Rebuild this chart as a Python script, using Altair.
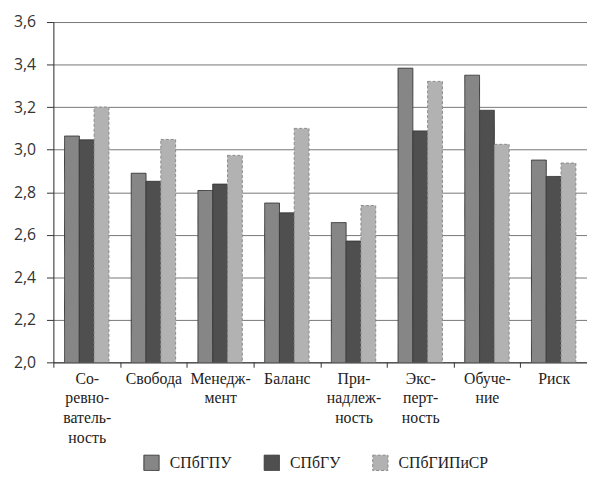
import altair as alt
import pandas as pd

categories = ["Со-|ревно-|ватель-|ность", "Свобода", "Менедж-|мент", "Баланс",
              "При-|надлеж-|ность", "Экс-|перт-|ность", "Обуче-|ние", "Риск"]
series = ["СПбГПУ", "СПбГУ", "СПбГИПиСР"]
v_gpu = [3.064, 2.889, 2.808, 2.749, 2.657, 3.383, 3.350, 2.951]
v_gu = [3.046, 2.851, 2.838, 2.703, 2.570, 3.088, 3.185, 2.874]
v_gipisr = [3.200, 3.048, 2.973, 3.100, 2.737, 3.321, 3.025, 2.937]

fills = ["#868686", "#4f4f4f", "#b2b2b2"]
strokes = ["#3a3a3a", "#3a3a3a", "#8a8a8a"]
dashes = [[1, 0], [1, 0], [3, 2]]

rows = []
for s, vals in zip(series, [v_gpu, v_gu, v_gipisr]):
    for c, v in zip(categories, vals):
        rows.append({"cat": c, "series": s, "value": v})
df = pd.DataFrame(rows)

legend = alt.Legend(title=None, orient="none", legendX=91, legendY=438,
                    direction="horizontal", symbolType="square", symbolSize=240,
                    labelFont="Liberation Serif", labelFontSize=16, labelColor="#222",
                    labelOffset=10, columnPadding=30, symbolStrokeWidth=1)

chart = alt.Chart(df).mark_bar(strokeWidth=1, clip=True).encode(
    x=alt.X("cat:N", sort=categories, title=None,
            scale=alt.Scale(paddingInner=0, paddingOuter=0),
            axis=alt.Axis(labelExpr="split(datum.label, '|')", labelAngle=0,
                          labelFont="Liberation Serif", labelFontSize=16, labelColor="#222",
                          labelLineHeight=20, labelBaseline="top", labelPadding=3,
                          labelLimit=0, tickBand="extent", tickSize=5, tickColor="#333",
                          domainColor="#333", grid=False)),
    xOffset=alt.XOffset("series:N", sort=series,
                        scale=alt.Scale(paddingInner=0, paddingOuter=0.755)),
    y=alt.Y("value:Q", title=None,
            scale=alt.Scale(domain=[2.0, 3.6], zero=False, nice=False),
            axis=alt.Axis(values=[2.0, 2.2, 2.4, 2.6, 2.8, 3.0, 3.2, 3.4, 3.6],
                          labelExpr="replace(format(datum.value, '.1f'), '.', ',')",
                          labelFont="Open Sans", labelFontSize=16, labelColor="#333",
                          labelPadding=11, tickSize=7, tickColor="#333",
                          domainColor="#333", gridColor="#777", gridWidth=1)),
    fill=alt.Fill("series:N", sort=series, scale=alt.Scale(domain=series, range=fills), legend=legend),
    stroke=alt.Stroke("series:N", sort=series, scale=alt.Scale(domain=series, range=strokes), legend=legend),
    strokeDash=alt.StrokeDash("series:N", sort=series, scale=alt.Scale(domain=series, range=dashes), legend=legend),
).properties(
    width=541, height=345,
    autosize=alt.AutoSizeParams(type="none"),
    padding={"left": 46, "top": 11, "right": 0, "bottom": 112},
).configure_view(strokeWidth=0).configure(background="white")

chart.save("out.html", embed_options={"renderer": "svg", "actions": False})
